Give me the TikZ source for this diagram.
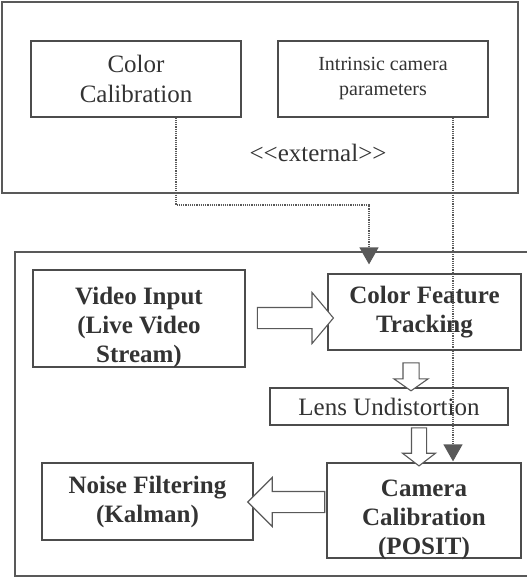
\documentclass[tikz,border=0pt]{standalone}
\usepackage{fontspec}
\setmainfont{Liberation Serif}
\usetikzlibrary{arrows.meta,shapes.arrows}

\tikzset{
  box/.style={draw=black!70, line width=1.2pt, shape=rectangle, inner sep=0pt, align=center, text=black!80},
  frame/.style={draw=black!65, line width=1.2pt, shape=rectangle, inner sep=0pt},
  rtext/.style={font=\fontsize{25}{30}\selectfont, text=black!80, align=center},
  stext/.style={font=\fontsize{20}{25}\selectfont, text=black!80, align=center},
  btext/.style={font=\fontsize{25}{29}\selectfont\bfseries, text=black!80, align=center},
  dots/.style={draw=black!65, line width=1.2pt, densely dotted, -{Triangle[width=19pt,length=17pt]}},
  hollow/.style={draw=black!65, line width=1.1pt, fill=white, single arrow, inner xsep=0pt}
}

\begin{document}
\begin{tikzpicture}[x=1pt,y=-1pt]
  \useasboundingbox (0,0) rectangle (527,578);
  \clip (0,0) rectangle (527,578);
  % outer frames
  \node[frame, minimum width=516pt, minimum height=191pt] (ext) at (260,97.5) {};
  \node[frame, minimum width=520pt, minimum height=324pt] (sys) at (275,414) {};
  % external part
  \node[box, rtext, minimum width=210pt, minimum height=76pt] (colcal) at (136,79) {Color\\Calibration};
  \node[box, stext, minimum width=210pt, minimum height=76pt] (intr) at (383,79) {Intrinsic camera\\parameters};
  \node[rtext] (exttxt) at (318,153) {<\kern0pt<external>\kern0pt>};
  % processing chain
  \node[box, minimum width=212pt, minimum height=97pt] (video) at (139,318.5) {};
  \node[btext] (videotxt) at (139,327) {Video Input\\(Live Video\\Stream)};
  \node[box, btext, minimum width=193pt, minimum height=76pt] (colfeat) at (424.5,312) {Color Feature\\Tracking};
  \node[box, rtext, minimum width=238pt, minimum height=37pt] (lens) at (389,406.5) {Lens Undistortion};
  \node[box, minimum width=194pt, minimum height=95pt] (camera) at (424,510.5) {};
  \node[btext] (cameratxt) at (424,520) {Camera\\Calibration\\(POSIT)};
  \node[box, btext, minimum width=211pt, minimum height=77pt] (noise) at (147.5,501.5) {Noise Filtering\\(Kalman)};
  % hollow arrows
  \node[hollow, minimum height=76pt, inner ysep=10pt, single arrow head extend=15pt, single arrow tip angle=100] (vidarr) at (291,318) {};
  \node[hollow, rotate=-90, minimum height=28pt, inner ysep=7.5pt, single arrow head extend=9pt, single arrow tip angle=110] (trkarr) at (411,374) {};
  \node[hollow, rotate=-90, minimum height=38pt, inner ysep=7pt, single arrow head extend=9pt, single arrow tip angle=105] (lensarr) at (419,444) {};
  \node[hollow, rotate=180, minimum height=77pt, inner ysep=10pt, single arrow head extend=14pt, single arrow tip angle=90] (camarr) at (291.5,502) {};
  % dotted inputs
  \coordinate (bend) at (369,205);
  \coordinate (isrc) at ([xshift=70pt]intr.south);
  \draw[dots, shorten >=9pt] ([xshift=40pt]colcal.south) |- (bend) -- (bend |- colfeat.north);
  \draw[dots, shorten >=1pt] (isrc) -- (isrc |- camera.north);
\end{tikzpicture}
\end{document}
